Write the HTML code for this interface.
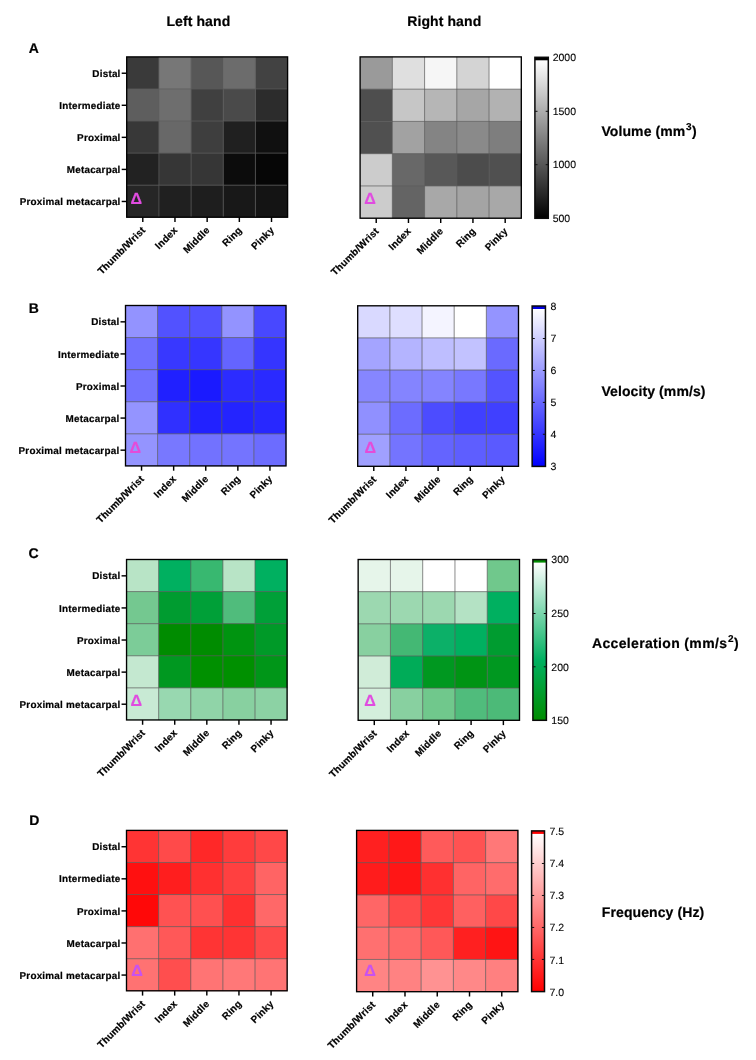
<!DOCTYPE html>
<html><head><meta charset="utf-8"><title>Hand heatmaps</title>
<style>html,body{margin:0;padding:0;background:#fff;}svg{display:block}text{font-family:"Liberation Sans", sans-serif;fill:#000;text-rendering:geometricPrecision}text[font-weight=bold]{stroke:#000;stroke-width:0.2px}.ax{letter-spacing:0.225px}.ti{letter-spacing:0.1px}</style>
</head><body>
<svg width="756" height="1060" viewBox="0 0 756 1060">
<defs><linearGradient id="g0" x1="0" y1="0" x2="0" y2="1"><stop offset="0" stop-color="#ffffff"/><stop offset="1" stop-color="#000000"/></linearGradient><linearGradient id="g1" x1="0" y1="0" x2="0" y2="1"><stop offset="0" stop-color="#ffffff"/><stop offset="1" stop-color="#0000ff"/></linearGradient><linearGradient id="g2" x1="0" y1="0" x2="0" y2="1"><stop offset="0" stop-color="#ffffff"/><stop offset="0.62" stop-color="#00b060"/><stop offset="1" stop-color="#008c00"/></linearGradient><linearGradient id="g3" x1="0" y1="0" x2="0" y2="1"><stop offset="0" stop-color="#ffffff"/><stop offset="1" stop-color="#ff0000"/></linearGradient></defs>
<rect width="756" height="1060" fill="#fff"/>
<text x="28.8" y="53.0" font-size="14" font-weight="bold">A</text>
<rect x="126.70" y="56.90" width="32.48" height="32.36" fill="#3a3a3a"/>
<rect x="158.88" y="56.90" width="32.48" height="32.36" fill="#777777"/>
<rect x="191.06" y="56.90" width="32.48" height="32.36" fill="#575757"/>
<rect x="223.24" y="56.90" width="32.48" height="32.36" fill="#6c6c6c"/>
<rect x="255.42" y="56.90" width="32.48" height="32.36" fill="#424242"/>
<rect x="126.70" y="88.96" width="32.48" height="32.36" fill="#5e5e5e"/>
<rect x="158.88" y="88.96" width="32.48" height="32.36" fill="#6e6e6e"/>
<rect x="191.06" y="88.96" width="32.48" height="32.36" fill="#404040"/>
<rect x="223.24" y="88.96" width="32.48" height="32.36" fill="#4a4a4a"/>
<rect x="255.42" y="88.96" width="32.48" height="32.36" fill="#2c2c2c"/>
<rect x="126.70" y="121.02" width="32.48" height="32.36" fill="#383838"/>
<rect x="158.88" y="121.02" width="32.48" height="32.36" fill="#686868"/>
<rect x="191.06" y="121.02" width="32.48" height="32.36" fill="#3e3e3e"/>
<rect x="223.24" y="121.02" width="32.48" height="32.36" fill="#202020"/>
<rect x="255.42" y="121.02" width="32.48" height="32.36" fill="#101010"/>
<rect x="126.70" y="153.08" width="32.48" height="32.36" fill="#222222"/>
<rect x="158.88" y="153.08" width="32.48" height="32.36" fill="#363636"/>
<rect x="191.06" y="153.08" width="32.48" height="32.36" fill="#363636"/>
<rect x="223.24" y="153.08" width="32.48" height="32.36" fill="#0c0c0c"/>
<rect x="255.42" y="153.08" width="32.48" height="32.36" fill="#060606"/>
<rect x="126.70" y="185.14" width="32.48" height="32.36" fill="#262626"/>
<rect x="158.88" y="185.14" width="32.48" height="32.36" fill="#202020"/>
<rect x="191.06" y="185.14" width="32.48" height="32.36" fill="#1e1e1e"/>
<rect x="223.24" y="185.14" width="32.48" height="32.36" fill="#181818"/>
<rect x="255.42" y="185.14" width="32.48" height="32.36" fill="#141414"/>
<line x1="158.88" y1="56.90" x2="158.88" y2="217.20" stroke="#5c5c5c" stroke-width="0.72"/>
<line x1="126.70" y1="88.96" x2="287.60" y2="88.96" stroke="#5c5c5c" stroke-width="0.72"/>
<line x1="191.06" y1="56.90" x2="191.06" y2="217.20" stroke="#5c5c5c" stroke-width="0.72"/>
<line x1="126.70" y1="121.02" x2="287.60" y2="121.02" stroke="#5c5c5c" stroke-width="0.72"/>
<line x1="223.24" y1="56.90" x2="223.24" y2="217.20" stroke="#5c5c5c" stroke-width="0.72"/>
<line x1="126.70" y1="153.08" x2="287.60" y2="153.08" stroke="#5c5c5c" stroke-width="0.72"/>
<line x1="255.42" y1="56.90" x2="255.42" y2="217.20" stroke="#5c5c5c" stroke-width="0.72"/>
<line x1="126.70" y1="185.14" x2="287.60" y2="185.14" stroke="#5c5c5c" stroke-width="0.72"/>
<rect x="126.70" y="56.90" width="160.90" height="160.30" fill="none" stroke="#000" stroke-width="1.35"/>
<line x1="142.79" y1="217.20" x2="142.79" y2="222.00" stroke="#000" stroke-width="1.45"/>
<text x="145.99" y="230.80" transform="rotate(-45 145.99 230.80)" text-anchor="end" font-size="9.9" font-weight="bold" class="ax">Thumb/Wrist</text>
<line x1="174.97" y1="217.20" x2="174.97" y2="222.00" stroke="#000" stroke-width="1.45"/>
<text x="178.17" y="230.80" transform="rotate(-45 178.17 230.80)" text-anchor="end" font-size="9.9" font-weight="bold" class="ax">Index</text>
<line x1="207.15" y1="217.20" x2="207.15" y2="222.00" stroke="#000" stroke-width="1.45"/>
<text x="210.35" y="230.80" transform="rotate(-45 210.35 230.80)" text-anchor="end" font-size="9.9" font-weight="bold" class="ax">Middle</text>
<line x1="239.33" y1="217.20" x2="239.33" y2="222.00" stroke="#000" stroke-width="1.45"/>
<text x="242.53" y="230.80" transform="rotate(-45 242.53 230.80)" text-anchor="end" font-size="9.9" font-weight="bold" class="ax">Ring</text>
<line x1="271.51" y1="217.20" x2="271.51" y2="222.00" stroke="#000" stroke-width="1.45"/>
<text x="274.71" y="230.80" transform="rotate(-45 274.71 230.80)" text-anchor="end" font-size="9.9" font-weight="bold" class="ax">Pinky</text>
<line x1="121.70" y1="73.23" x2="126.70" y2="73.23" stroke="#000" stroke-width="1.45"/>
<text x="120.60" y="76.83" text-anchor="end" font-size="9.9" font-weight="bold" class="ax">Distal</text>
<line x1="121.70" y1="105.29" x2="126.70" y2="105.29" stroke="#000" stroke-width="1.45"/>
<text x="120.60" y="108.89" text-anchor="end" font-size="9.9" font-weight="bold" class="ax">Intermediate</text>
<line x1="121.70" y1="137.35" x2="126.70" y2="137.35" stroke="#000" stroke-width="1.45"/>
<text x="120.60" y="140.95" text-anchor="end" font-size="9.9" font-weight="bold" class="ax">Proximal</text>
<line x1="121.70" y1="169.41" x2="126.70" y2="169.41" stroke="#000" stroke-width="1.45"/>
<text x="120.60" y="173.01" text-anchor="end" font-size="9.9" font-weight="bold" class="ax">Metacarpal</text>
<line x1="121.70" y1="201.47" x2="126.70" y2="201.47" stroke="#000" stroke-width="1.45"/>
<text x="120.60" y="205.07" text-anchor="end" font-size="9.9" font-weight="bold" class="ax">Proximal metacarpal</text>
<text x="130.40" y="203.80" font-size="16.1" font-weight="bold" style="fill:#e04ce0;stroke:#e04ce0">Δ</text>
<rect x="360.10" y="56.90" width="32.54" height="32.56" fill="#9a9a9a"/>
<rect x="392.34" y="56.90" width="32.54" height="32.56" fill="#dfdfdf"/>
<rect x="424.58" y="56.90" width="32.54" height="32.56" fill="#f6f6f6"/>
<rect x="456.82" y="56.90" width="32.54" height="32.56" fill="#d4d4d4"/>
<rect x="489.06" y="56.90" width="32.54" height="32.56" fill="#ffffff"/>
<rect x="360.10" y="89.16" width="32.54" height="32.56" fill="#4e4e4e"/>
<rect x="392.34" y="89.16" width="32.54" height="32.56" fill="#c6c6c6"/>
<rect x="424.58" y="89.16" width="32.54" height="32.56" fill="#b6b6b6"/>
<rect x="456.82" y="89.16" width="32.54" height="32.56" fill="#a6a6a6"/>
<rect x="489.06" y="89.16" width="32.54" height="32.56" fill="#b2b2b2"/>
<rect x="360.10" y="121.42" width="32.54" height="32.56" fill="#505050"/>
<rect x="392.34" y="121.42" width="32.54" height="32.56" fill="#a2a2a2"/>
<rect x="424.58" y="121.42" width="32.54" height="32.56" fill="#848484"/>
<rect x="456.82" y="121.42" width="32.54" height="32.56" fill="#8a8a8a"/>
<rect x="489.06" y="121.42" width="32.54" height="32.56" fill="#7e7e7e"/>
<rect x="360.10" y="153.68" width="32.54" height="32.56" fill="#cccccc"/>
<rect x="392.34" y="153.68" width="32.54" height="32.56" fill="#686868"/>
<rect x="424.58" y="153.68" width="32.54" height="32.56" fill="#585858"/>
<rect x="456.82" y="153.68" width="32.54" height="32.56" fill="#4c4c4c"/>
<rect x="489.06" y="153.68" width="32.54" height="32.56" fill="#505050"/>
<rect x="360.10" y="185.94" width="32.54" height="32.56" fill="#cccccc"/>
<rect x="392.34" y="185.94" width="32.54" height="32.56" fill="#646464"/>
<rect x="424.58" y="185.94" width="32.54" height="32.56" fill="#a8a8a8"/>
<rect x="456.82" y="185.94" width="32.54" height="32.56" fill="#a4a4a4"/>
<rect x="489.06" y="185.94" width="32.54" height="32.56" fill="#a8a8a8"/>
<line x1="392.34" y1="56.90" x2="392.34" y2="218.20" stroke="#5c5c5c" stroke-width="0.72"/>
<line x1="360.10" y1="89.16" x2="521.30" y2="89.16" stroke="#5c5c5c" stroke-width="0.72"/>
<line x1="424.58" y1="56.90" x2="424.58" y2="218.20" stroke="#5c5c5c" stroke-width="0.72"/>
<line x1="360.10" y1="121.42" x2="521.30" y2="121.42" stroke="#5c5c5c" stroke-width="0.72"/>
<line x1="456.82" y1="56.90" x2="456.82" y2="218.20" stroke="#5c5c5c" stroke-width="0.72"/>
<line x1="360.10" y1="153.68" x2="521.30" y2="153.68" stroke="#5c5c5c" stroke-width="0.72"/>
<line x1="489.06" y1="56.90" x2="489.06" y2="218.20" stroke="#5c5c5c" stroke-width="0.72"/>
<line x1="360.10" y1="185.94" x2="521.30" y2="185.94" stroke="#5c5c5c" stroke-width="0.72"/>
<rect x="360.10" y="56.90" width="161.20" height="161.30" fill="none" stroke="#000" stroke-width="1.35"/>
<line x1="376.22" y1="218.20" x2="376.22" y2="223.00" stroke="#000" stroke-width="1.45"/>
<text x="379.42" y="231.80" transform="rotate(-45 379.42 231.80)" text-anchor="end" font-size="9.9" font-weight="bold" class="ax">Thumb/Wrist</text>
<line x1="408.46" y1="218.20" x2="408.46" y2="223.00" stroke="#000" stroke-width="1.45"/>
<text x="411.66" y="231.80" transform="rotate(-45 411.66 231.80)" text-anchor="end" font-size="9.9" font-weight="bold" class="ax">Index</text>
<line x1="440.70" y1="218.20" x2="440.70" y2="223.00" stroke="#000" stroke-width="1.45"/>
<text x="443.90" y="231.80" transform="rotate(-45 443.90 231.80)" text-anchor="end" font-size="9.9" font-weight="bold" class="ax">Middle</text>
<line x1="472.94" y1="218.20" x2="472.94" y2="223.00" stroke="#000" stroke-width="1.45"/>
<text x="476.14" y="231.80" transform="rotate(-45 476.14 231.80)" text-anchor="end" font-size="9.9" font-weight="bold" class="ax">Ring</text>
<line x1="505.18" y1="218.20" x2="505.18" y2="223.00" stroke="#000" stroke-width="1.45"/>
<text x="508.38" y="231.80" transform="rotate(-45 508.38 231.80)" text-anchor="end" font-size="9.9" font-weight="bold" class="ax">Pinky</text>
<text x="364.30" y="203.50" font-size="16.1" font-weight="bold" style="fill:#e04ce0;stroke:#e04ce0">Δ</text>
<rect x="534.9" y="59.90" width="13.40" height="158.40" fill="url(#g0)"/>
<rect x="534.9" y="57.3" width="13.40" height="3.0" fill="#000000"/>
<rect x="534.9" y="57.3" width="13.40" height="161.00" fill="none" stroke="#0a0a0a" stroke-width="1.5"/>
<text x="552.7" y="61.25" font-size="10.5" style="fill:#000;stroke:#000;stroke-width:0.1px">2000</text>
<line x1="534.9" y1="111.30" x2="537.5" y2="111.30" stroke="#111" stroke-width="1"/>
<line x1="545.6999999999999" y1="111.30" x2="548.3" y2="111.30" stroke="#111" stroke-width="1"/>
<text x="552.7" y="114.78" font-size="10.5" style="fill:#000;stroke:#000;stroke-width:0.1px">1500</text>
<line x1="534.9" y1="164.70" x2="537.5" y2="164.70" stroke="#111" stroke-width="1"/>
<line x1="545.6999999999999" y1="164.70" x2="548.3" y2="164.70" stroke="#111" stroke-width="1"/>
<text x="552.7" y="168.32" font-size="10.5" style="fill:#000;stroke:#000;stroke-width:0.1px">1000</text>
<text x="552.7" y="221.85" font-size="10.5" style="fill:#000;stroke:#000;stroke-width:0.1px">500</text>
<text x="601.4" y="135.6" font-size="14" font-weight="bold" class="ti">Volume (mm<tspan font-size="10" dy="-5.8" dx="0.6">3</tspan><tspan dy="5.8" dx="0.3">)</tspan></text>
<text x="28.8" y="313.0" font-size="14" font-weight="bold">B</text>
<rect x="125.50" y="305.50" width="32.40" height="32.38" fill="#9393ff"/>
<rect x="157.60" y="305.50" width="32.40" height="32.38" fill="#5252ff"/>
<rect x="189.70" y="305.50" width="32.40" height="32.38" fill="#5252ff"/>
<rect x="221.80" y="305.50" width="32.40" height="32.38" fill="#9393ff"/>
<rect x="253.90" y="305.50" width="32.40" height="32.38" fill="#4848ff"/>
<rect x="125.50" y="337.58" width="32.40" height="32.38" fill="#7070ff"/>
<rect x="157.60" y="337.58" width="32.40" height="32.38" fill="#3838ff"/>
<rect x="189.70" y="337.58" width="32.40" height="32.38" fill="#3636ff"/>
<rect x="221.80" y="337.58" width="32.40" height="32.38" fill="#6464ff"/>
<rect x="253.90" y="337.58" width="32.40" height="32.38" fill="#3535ff"/>
<rect x="125.50" y="369.66" width="32.40" height="32.38" fill="#7272ff"/>
<rect x="157.60" y="369.66" width="32.40" height="32.38" fill="#2020ff"/>
<rect x="189.70" y="369.66" width="32.40" height="32.38" fill="#1a1aff"/>
<rect x="221.80" y="369.66" width="32.40" height="32.38" fill="#2c2cff"/>
<rect x="253.90" y="369.66" width="32.40" height="32.38" fill="#2a2aff"/>
<rect x="125.50" y="401.74" width="32.40" height="32.38" fill="#9494ff"/>
<rect x="157.60" y="401.74" width="32.40" height="32.38" fill="#3030ff"/>
<rect x="189.70" y="401.74" width="32.40" height="32.38" fill="#2222ff"/>
<rect x="221.80" y="401.74" width="32.40" height="32.38" fill="#2424ff"/>
<rect x="253.90" y="401.74" width="32.40" height="32.38" fill="#2828ff"/>
<rect x="125.50" y="433.82" width="32.40" height="32.38" fill="#9494ff"/>
<rect x="157.60" y="433.82" width="32.40" height="32.38" fill="#7878ff"/>
<rect x="189.70" y="433.82" width="32.40" height="32.38" fill="#7272ff"/>
<rect x="221.80" y="433.82" width="32.40" height="32.38" fill="#7474ff"/>
<rect x="253.90" y="433.82" width="32.40" height="32.38" fill="#6c6cff"/>
<line x1="157.60" y1="305.50" x2="157.60" y2="465.90" stroke="#5c5c5c" stroke-width="0.72"/>
<line x1="125.50" y1="337.58" x2="286.00" y2="337.58" stroke="#5c5c5c" stroke-width="0.72"/>
<line x1="189.70" y1="305.50" x2="189.70" y2="465.90" stroke="#5c5c5c" stroke-width="0.72"/>
<line x1="125.50" y1="369.66" x2="286.00" y2="369.66" stroke="#5c5c5c" stroke-width="0.72"/>
<line x1="221.80" y1="305.50" x2="221.80" y2="465.90" stroke="#5c5c5c" stroke-width="0.72"/>
<line x1="125.50" y1="401.74" x2="286.00" y2="401.74" stroke="#5c5c5c" stroke-width="0.72"/>
<line x1="253.90" y1="305.50" x2="253.90" y2="465.90" stroke="#5c5c5c" stroke-width="0.72"/>
<line x1="125.50" y1="433.82" x2="286.00" y2="433.82" stroke="#5c5c5c" stroke-width="0.72"/>
<rect x="125.50" y="305.50" width="160.50" height="160.40" fill="none" stroke="#000" stroke-width="1.35"/>
<line x1="141.55" y1="465.90" x2="141.55" y2="470.70" stroke="#000" stroke-width="1.45"/>
<text x="144.75" y="479.50" transform="rotate(-45 144.75 479.50)" text-anchor="end" font-size="9.9" font-weight="bold" class="ax">Thumb/Wrist</text>
<line x1="173.65" y1="465.90" x2="173.65" y2="470.70" stroke="#000" stroke-width="1.45"/>
<text x="176.85" y="479.50" transform="rotate(-45 176.85 479.50)" text-anchor="end" font-size="9.9" font-weight="bold" class="ax">Index</text>
<line x1="205.75" y1="465.90" x2="205.75" y2="470.70" stroke="#000" stroke-width="1.45"/>
<text x="208.95" y="479.50" transform="rotate(-45 208.95 479.50)" text-anchor="end" font-size="9.9" font-weight="bold" class="ax">Middle</text>
<line x1="237.85" y1="465.90" x2="237.85" y2="470.70" stroke="#000" stroke-width="1.45"/>
<text x="241.05" y="479.50" transform="rotate(-45 241.05 479.50)" text-anchor="end" font-size="9.9" font-weight="bold" class="ax">Ring</text>
<line x1="269.95" y1="465.90" x2="269.95" y2="470.70" stroke="#000" stroke-width="1.45"/>
<text x="273.15" y="479.50" transform="rotate(-45 273.15 479.50)" text-anchor="end" font-size="9.9" font-weight="bold" class="ax">Pinky</text>
<line x1="120.50" y1="321.84" x2="125.50" y2="321.84" stroke="#000" stroke-width="1.45"/>
<text x="119.40" y="325.44" text-anchor="end" font-size="9.9" font-weight="bold" class="ax">Distal</text>
<line x1="120.50" y1="353.92" x2="125.50" y2="353.92" stroke="#000" stroke-width="1.45"/>
<text x="119.40" y="357.52" text-anchor="end" font-size="9.9" font-weight="bold" class="ax">Intermediate</text>
<line x1="120.50" y1="386.00" x2="125.50" y2="386.00" stroke="#000" stroke-width="1.45"/>
<text x="119.40" y="389.60" text-anchor="end" font-size="9.9" font-weight="bold" class="ax">Proximal</text>
<line x1="120.50" y1="418.08" x2="125.50" y2="418.08" stroke="#000" stroke-width="1.45"/>
<text x="119.40" y="421.68" text-anchor="end" font-size="9.9" font-weight="bold" class="ax">Metacarpal</text>
<line x1="120.50" y1="450.16" x2="125.50" y2="450.16" stroke="#000" stroke-width="1.45"/>
<text x="119.40" y="453.76" text-anchor="end" font-size="9.9" font-weight="bold" class="ax">Proximal metacarpal</text>
<text x="129.50" y="452.70" font-size="16.1" font-weight="bold" style="fill:#e44cd8;stroke:#e44cd8">Δ</text>
<rect x="357.70" y="305.80" width="32.46" height="32.40" fill="#d9d9ff"/>
<rect x="389.86" y="305.80" width="32.46" height="32.40" fill="#dedeff"/>
<rect x="422.02" y="305.80" width="32.46" height="32.40" fill="#f4f4ff"/>
<rect x="454.18" y="305.80" width="32.46" height="32.40" fill="#ffffff"/>
<rect x="486.34" y="305.80" width="32.46" height="32.40" fill="#9494ff"/>
<rect x="357.70" y="337.90" width="32.46" height="32.40" fill="#a4a4ff"/>
<rect x="389.86" y="337.90" width="32.46" height="32.40" fill="#b4b4ff"/>
<rect x="422.02" y="337.90" width="32.46" height="32.40" fill="#bebeff"/>
<rect x="454.18" y="337.90" width="32.46" height="32.40" fill="#c2c2ff"/>
<rect x="486.34" y="337.90" width="32.46" height="32.40" fill="#6a6aff"/>
<rect x="357.70" y="370.00" width="32.46" height="32.40" fill="#8686ff"/>
<rect x="389.86" y="370.00" width="32.46" height="32.40" fill="#8484ff"/>
<rect x="422.02" y="370.00" width="32.46" height="32.40" fill="#8484ff"/>
<rect x="454.18" y="370.00" width="32.46" height="32.40" fill="#7878ff"/>
<rect x="486.34" y="370.00" width="32.46" height="32.40" fill="#5454ff"/>
<rect x="357.70" y="402.10" width="32.46" height="32.40" fill="#9090ff"/>
<rect x="389.86" y="402.10" width="32.46" height="32.40" fill="#6c6cff"/>
<rect x="422.02" y="402.10" width="32.46" height="32.40" fill="#4c4cff"/>
<rect x="454.18" y="402.10" width="32.46" height="32.40" fill="#4040ff"/>
<rect x="486.34" y="402.10" width="32.46" height="32.40" fill="#4040ff"/>
<rect x="357.70" y="434.20" width="32.46" height="32.40" fill="#a0a0ff"/>
<rect x="389.86" y="434.20" width="32.46" height="32.40" fill="#7474ff"/>
<rect x="422.02" y="434.20" width="32.46" height="32.40" fill="#6464ff"/>
<rect x="454.18" y="434.20" width="32.46" height="32.40" fill="#5e5eff"/>
<rect x="486.34" y="434.20" width="32.46" height="32.40" fill="#5a5aff"/>
<line x1="389.86" y1="305.80" x2="389.86" y2="466.30" stroke="#5c5c5c" stroke-width="0.72"/>
<line x1="357.70" y1="337.90" x2="518.50" y2="337.90" stroke="#5c5c5c" stroke-width="0.72"/>
<line x1="422.02" y1="305.80" x2="422.02" y2="466.30" stroke="#5c5c5c" stroke-width="0.72"/>
<line x1="357.70" y1="370.00" x2="518.50" y2="370.00" stroke="#5c5c5c" stroke-width="0.72"/>
<line x1="454.18" y1="305.80" x2="454.18" y2="466.30" stroke="#5c5c5c" stroke-width="0.72"/>
<line x1="357.70" y1="402.10" x2="518.50" y2="402.10" stroke="#5c5c5c" stroke-width="0.72"/>
<line x1="486.34" y1="305.80" x2="486.34" y2="466.30" stroke="#5c5c5c" stroke-width="0.72"/>
<line x1="357.70" y1="434.20" x2="518.50" y2="434.20" stroke="#5c5c5c" stroke-width="0.72"/>
<rect x="357.70" y="305.80" width="160.80" height="160.50" fill="none" stroke="#000" stroke-width="1.35"/>
<line x1="373.78" y1="466.30" x2="373.78" y2="471.10" stroke="#000" stroke-width="1.45"/>
<text x="376.98" y="479.90" transform="rotate(-45 376.98 479.90)" text-anchor="end" font-size="9.9" font-weight="bold" class="ax">Thumb/Wrist</text>
<line x1="405.94" y1="466.30" x2="405.94" y2="471.10" stroke="#000" stroke-width="1.45"/>
<text x="409.14" y="479.90" transform="rotate(-45 409.14 479.90)" text-anchor="end" font-size="9.9" font-weight="bold" class="ax">Index</text>
<line x1="438.10" y1="466.30" x2="438.10" y2="471.10" stroke="#000" stroke-width="1.45"/>
<text x="441.30" y="479.90" transform="rotate(-45 441.30 479.90)" text-anchor="end" font-size="9.9" font-weight="bold" class="ax">Middle</text>
<line x1="470.26" y1="466.30" x2="470.26" y2="471.10" stroke="#000" stroke-width="1.45"/>
<text x="473.46" y="479.90" transform="rotate(-45 473.46 479.90)" text-anchor="end" font-size="9.9" font-weight="bold" class="ax">Ring</text>
<line x1="502.42" y1="466.30" x2="502.42" y2="471.10" stroke="#000" stroke-width="1.45"/>
<text x="505.62" y="479.90" transform="rotate(-45 505.62 479.90)" text-anchor="end" font-size="9.9" font-weight="bold" class="ax">Pinky</text>
<text x="364.40" y="452.70" font-size="16.1" font-weight="bold" style="fill:#e44cd8;stroke:#e44cd8">Δ</text>
<rect x="532.15" y="308.60" width="13.30" height="157.80" fill="url(#g1)"/>
<rect x="532.15" y="306.0" width="13.30" height="3.0" fill="#0000e0"/>
<rect x="532.15" y="306.0" width="13.30" height="160.40" fill="none" stroke="#0a0a0a" stroke-width="1.5"/>
<text x="550.4000000000001" y="310.35" font-size="10.5" style="fill:#000;stroke:#000;stroke-width:0.1px">8</text>
<line x1="532.15" y1="338.52" x2="534.75" y2="338.52" stroke="#111" stroke-width="1"/>
<line x1="542.85" y1="338.52" x2="545.45" y2="338.52" stroke="#111" stroke-width="1"/>
<text x="550.4000000000001" y="342.37" font-size="10.5" style="fill:#000;stroke:#000;stroke-width:0.1px">7</text>
<line x1="532.15" y1="370.44" x2="534.75" y2="370.44" stroke="#111" stroke-width="1"/>
<line x1="542.85" y1="370.44" x2="545.45" y2="370.44" stroke="#111" stroke-width="1"/>
<text x="550.4000000000001" y="374.39" font-size="10.5" style="fill:#000;stroke:#000;stroke-width:0.1px">6</text>
<line x1="532.15" y1="402.36" x2="534.75" y2="402.36" stroke="#111" stroke-width="1"/>
<line x1="542.85" y1="402.36" x2="545.45" y2="402.36" stroke="#111" stroke-width="1"/>
<text x="550.4000000000001" y="406.41" font-size="10.5" style="fill:#000;stroke:#000;stroke-width:0.1px">5</text>
<line x1="532.15" y1="434.28" x2="534.75" y2="434.28" stroke="#111" stroke-width="1"/>
<line x1="542.85" y1="434.28" x2="545.45" y2="434.28" stroke="#111" stroke-width="1"/>
<text x="550.4000000000001" y="438.43" font-size="10.5" style="fill:#000;stroke:#000;stroke-width:0.1px">4</text>
<text x="550.4000000000001" y="470.45" font-size="10.5" style="fill:#000;stroke:#000;stroke-width:0.1px">3</text>
<text x="601.4" y="396.2" font-size="14" font-weight="bold" class="ti">Velocity (mm/s)</text>
<text x="28.4" y="558.0" font-size="14" font-weight="bold">C</text>
<rect x="126.55" y="559.50" width="32.41" height="32.39" fill="#b8e4c6"/>
<rect x="158.66" y="559.50" width="32.41" height="32.39" fill="#00b060"/>
<rect x="190.77" y="559.50" width="32.41" height="32.39" fill="#38b870"/>
<rect x="222.88" y="559.50" width="32.41" height="32.39" fill="#b8e4c6"/>
<rect x="254.99" y="559.50" width="32.41" height="32.39" fill="#00b060"/>
<rect x="126.55" y="591.59" width="32.41" height="32.39" fill="#74c890"/>
<rect x="158.66" y="591.59" width="32.41" height="32.39" fill="#009c30"/>
<rect x="190.77" y="591.59" width="32.41" height="32.39" fill="#00a038"/>
<rect x="222.88" y="591.59" width="32.41" height="32.39" fill="#50bc7c"/>
<rect x="254.99" y="591.59" width="32.41" height="32.39" fill="#00a038"/>
<rect x="126.55" y="623.68" width="32.41" height="32.39" fill="#7ccc98"/>
<rect x="158.66" y="623.68" width="32.41" height="32.39" fill="#008c00"/>
<rect x="190.77" y="623.68" width="32.41" height="32.39" fill="#008c00"/>
<rect x="222.88" y="623.68" width="32.41" height="32.39" fill="#009410"/>
<rect x="254.99" y="623.68" width="32.41" height="32.39" fill="#009a28"/>
<rect x="126.55" y="655.77" width="32.41" height="32.39" fill="#c4e8d0"/>
<rect x="158.66" y="655.77" width="32.41" height="32.39" fill="#009820"/>
<rect x="190.77" y="655.77" width="32.41" height="32.39" fill="#009000"/>
<rect x="222.88" y="655.77" width="32.41" height="32.39" fill="#009000"/>
<rect x="254.99" y="655.77" width="32.41" height="32.39" fill="#009618"/>
<rect x="126.55" y="687.86" width="32.41" height="32.39" fill="#c8ead4"/>
<rect x="158.66" y="687.86" width="32.41" height="32.39" fill="#98d8b0"/>
<rect x="190.77" y="687.86" width="32.41" height="32.39" fill="#90d4a8"/>
<rect x="222.88" y="687.86" width="32.41" height="32.39" fill="#88d0a0"/>
<rect x="254.99" y="687.86" width="32.41" height="32.39" fill="#8cd2a4"/>
<line x1="158.66" y1="559.50" x2="158.66" y2="719.95" stroke="#5c5c5c" stroke-width="0.72"/>
<line x1="126.55" y1="591.59" x2="287.10" y2="591.59" stroke="#5c5c5c" stroke-width="0.72"/>
<line x1="190.77" y1="559.50" x2="190.77" y2="719.95" stroke="#5c5c5c" stroke-width="0.72"/>
<line x1="126.55" y1="623.68" x2="287.10" y2="623.68" stroke="#5c5c5c" stroke-width="0.72"/>
<line x1="222.88" y1="559.50" x2="222.88" y2="719.95" stroke="#5c5c5c" stroke-width="0.72"/>
<line x1="126.55" y1="655.77" x2="287.10" y2="655.77" stroke="#5c5c5c" stroke-width="0.72"/>
<line x1="254.99" y1="559.50" x2="254.99" y2="719.95" stroke="#5c5c5c" stroke-width="0.72"/>
<line x1="126.55" y1="687.86" x2="287.10" y2="687.86" stroke="#5c5c5c" stroke-width="0.72"/>
<rect x="126.55" y="559.50" width="160.55" height="160.45" fill="none" stroke="#000" stroke-width="1.35"/>
<line x1="142.60" y1="719.95" x2="142.60" y2="724.75" stroke="#000" stroke-width="1.45"/>
<text x="145.80" y="733.55" transform="rotate(-45 145.80 733.55)" text-anchor="end" font-size="9.9" font-weight="bold" class="ax">Thumb/Wrist</text>
<line x1="174.72" y1="719.95" x2="174.72" y2="724.75" stroke="#000" stroke-width="1.45"/>
<text x="177.91" y="733.55" transform="rotate(-45 177.91 733.55)" text-anchor="end" font-size="9.9" font-weight="bold" class="ax">Index</text>
<line x1="206.82" y1="719.95" x2="206.82" y2="724.75" stroke="#000" stroke-width="1.45"/>
<text x="210.02" y="733.55" transform="rotate(-45 210.02 733.55)" text-anchor="end" font-size="9.9" font-weight="bold" class="ax">Middle</text>
<line x1="238.94" y1="719.95" x2="238.94" y2="724.75" stroke="#000" stroke-width="1.45"/>
<text x="242.13" y="733.55" transform="rotate(-45 242.13 733.55)" text-anchor="end" font-size="9.9" font-weight="bold" class="ax">Ring</text>
<line x1="271.05" y1="719.95" x2="271.05" y2="724.75" stroke="#000" stroke-width="1.45"/>
<text x="274.25" y="733.55" transform="rotate(-45 274.25 733.55)" text-anchor="end" font-size="9.9" font-weight="bold" class="ax">Pinky</text>
<line x1="121.55" y1="575.84" x2="126.55" y2="575.84" stroke="#000" stroke-width="1.45"/>
<text x="120.45" y="579.44" text-anchor="end" font-size="9.9" font-weight="bold" class="ax">Distal</text>
<line x1="121.55" y1="607.93" x2="126.55" y2="607.93" stroke="#000" stroke-width="1.45"/>
<text x="120.45" y="611.53" text-anchor="end" font-size="9.9" font-weight="bold" class="ax">Intermediate</text>
<line x1="121.55" y1="640.02" x2="126.55" y2="640.02" stroke="#000" stroke-width="1.45"/>
<text x="120.45" y="643.62" text-anchor="end" font-size="9.9" font-weight="bold" class="ax">Proximal</text>
<line x1="121.55" y1="672.12" x2="126.55" y2="672.12" stroke="#000" stroke-width="1.45"/>
<text x="120.45" y="675.72" text-anchor="end" font-size="9.9" font-weight="bold" class="ax">Metacarpal</text>
<line x1="121.55" y1="704.21" x2="126.55" y2="704.21" stroke="#000" stroke-width="1.45"/>
<text x="120.45" y="707.81" text-anchor="end" font-size="9.9" font-weight="bold" class="ax">Proximal metacarpal</text>
<text x="130.50" y="706.00" font-size="16.1" font-weight="bold" style="fill:#e04ce0;stroke:#e04ce0">Δ</text>
<rect x="358.15" y="559.50" width="32.57" height="32.46" fill="#e6f5ea"/>
<rect x="390.42" y="559.50" width="32.57" height="32.46" fill="#e6f5ea"/>
<rect x="422.69" y="559.50" width="32.57" height="32.46" fill="#ffffff"/>
<rect x="454.96" y="559.50" width="32.57" height="32.46" fill="#ffffff"/>
<rect x="487.23" y="559.50" width="32.57" height="32.46" fill="#70c88c"/>
<rect x="358.15" y="591.66" width="32.57" height="32.46" fill="#9cd8b0"/>
<rect x="390.42" y="591.66" width="32.57" height="32.46" fill="#9cd8b0"/>
<rect x="422.69" y="591.66" width="32.57" height="32.46" fill="#9cd8b0"/>
<rect x="454.96" y="591.66" width="32.57" height="32.46" fill="#b4e2c4"/>
<rect x="487.23" y="591.66" width="32.57" height="32.46" fill="#00b060"/>
<rect x="358.15" y="623.82" width="32.57" height="32.46" fill="#88d0a0"/>
<rect x="390.42" y="623.82" width="32.57" height="32.46" fill="#44b874"/>
<rect x="422.69" y="623.82" width="32.57" height="32.46" fill="#0cb068"/>
<rect x="454.96" y="623.82" width="32.57" height="32.46" fill="#00b060"/>
<rect x="487.23" y="623.82" width="32.57" height="32.46" fill="#009c30"/>
<rect x="358.15" y="655.98" width="32.57" height="32.46" fill="#d0ecd8"/>
<rect x="390.42" y="655.98" width="32.57" height="32.46" fill="#00ac58"/>
<rect x="422.69" y="655.98" width="32.57" height="32.46" fill="#009820"/>
<rect x="454.96" y="655.98" width="32.57" height="32.46" fill="#009414"/>
<rect x="487.23" y="655.98" width="32.57" height="32.46" fill="#009820"/>
<rect x="358.15" y="688.14" width="32.57" height="32.46" fill="#d4eedc"/>
<rect x="390.42" y="688.14" width="32.57" height="32.46" fill="#88d0a0"/>
<rect x="422.69" y="688.14" width="32.57" height="32.46" fill="#70c88c"/>
<rect x="454.96" y="688.14" width="32.57" height="32.46" fill="#50bc7c"/>
<rect x="487.23" y="688.14" width="32.57" height="32.46" fill="#4cba78"/>
<line x1="390.42" y1="559.50" x2="390.42" y2="720.30" stroke="#5c5c5c" stroke-width="0.72"/>
<line x1="358.15" y1="591.66" x2="519.50" y2="591.66" stroke="#5c5c5c" stroke-width="0.72"/>
<line x1="422.69" y1="559.50" x2="422.69" y2="720.30" stroke="#5c5c5c" stroke-width="0.72"/>
<line x1="358.15" y1="623.82" x2="519.50" y2="623.82" stroke="#5c5c5c" stroke-width="0.72"/>
<line x1="454.96" y1="559.50" x2="454.96" y2="720.30" stroke="#5c5c5c" stroke-width="0.72"/>
<line x1="358.15" y1="655.98" x2="519.50" y2="655.98" stroke="#5c5c5c" stroke-width="0.72"/>
<line x1="487.23" y1="559.50" x2="487.23" y2="720.30" stroke="#5c5c5c" stroke-width="0.72"/>
<line x1="358.15" y1="688.14" x2="519.50" y2="688.14" stroke="#5c5c5c" stroke-width="0.72"/>
<rect x="358.15" y="559.50" width="161.35" height="160.80" fill="none" stroke="#000" stroke-width="1.35"/>
<line x1="374.28" y1="720.30" x2="374.28" y2="725.10" stroke="#000" stroke-width="1.45"/>
<text x="377.48" y="733.90" transform="rotate(-45 377.48 733.90)" text-anchor="end" font-size="9.9" font-weight="bold" class="ax">Thumb/Wrist</text>
<line x1="406.55" y1="720.30" x2="406.55" y2="725.10" stroke="#000" stroke-width="1.45"/>
<text x="409.75" y="733.90" transform="rotate(-45 409.75 733.90)" text-anchor="end" font-size="9.9" font-weight="bold" class="ax">Index</text>
<line x1="438.82" y1="720.30" x2="438.82" y2="725.10" stroke="#000" stroke-width="1.45"/>
<text x="442.02" y="733.90" transform="rotate(-45 442.02 733.90)" text-anchor="end" font-size="9.9" font-weight="bold" class="ax">Middle</text>
<line x1="471.09" y1="720.30" x2="471.09" y2="725.10" stroke="#000" stroke-width="1.45"/>
<text x="474.29" y="733.90" transform="rotate(-45 474.29 733.90)" text-anchor="end" font-size="9.9" font-weight="bold" class="ax">Ring</text>
<line x1="503.37" y1="720.30" x2="503.37" y2="725.10" stroke="#000" stroke-width="1.45"/>
<text x="506.56" y="733.90" transform="rotate(-45 506.56 733.90)" text-anchor="end" font-size="9.9" font-weight="bold" class="ax">Pinky</text>
<text x="364.20" y="706.00" font-size="16.1" font-weight="bold" style="fill:#e04ce0;stroke:#e04ce0">Δ</text>
<rect x="532.9" y="562.20" width="13.50" height="158.10" fill="url(#g2)"/>
<rect x="532.9" y="559.6" width="13.50" height="3.0" fill="#008c00"/>
<rect x="532.9" y="559.6" width="13.50" height="160.70" fill="none" stroke="#0a0a0a" stroke-width="1.5"/>
<text x="551.3000000000001" y="562.95" font-size="10.5" style="fill:#000;stroke:#000;stroke-width:0.1px">300</text>
<line x1="532.9" y1="613.50" x2="535.5" y2="613.50" stroke="#111" stroke-width="1"/>
<line x1="543.8" y1="613.50" x2="546.4" y2="613.50" stroke="#111" stroke-width="1"/>
<text x="551.3000000000001" y="616.75" font-size="10.5" style="fill:#000;stroke:#000;stroke-width:0.1px">250</text>
<line x1="532.9" y1="666.80" x2="535.5" y2="666.80" stroke="#111" stroke-width="1"/>
<line x1="543.8" y1="666.80" x2="546.4" y2="666.80" stroke="#111" stroke-width="1"/>
<text x="551.3000000000001" y="670.55" font-size="10.5" style="fill:#000;stroke:#000;stroke-width:0.1px">200</text>
<text x="551.3000000000001" y="724.35" font-size="10.5" style="fill:#000;stroke:#000;stroke-width:0.1px">150</text>
<text x="592.0" y="647.8" font-size="14" font-weight="bold" class="ti" style="letter-spacing:0.34px">Acceleration (mm/s<tspan font-size="10" dy="-5.8" dx="0.6">2</tspan><tspan dy="5.8" dx="0.3">)</tspan></text>
<text x="29.3" y="825.3" font-size="14" font-weight="bold">D</text>
<rect x="126.50" y="830.40" width="32.43" height="32.38" fill="#ff3434"/>
<rect x="158.63" y="830.40" width="32.43" height="32.38" fill="#ff4a4a"/>
<rect x="190.76" y="830.40" width="32.43" height="32.38" fill="#ff2828"/>
<rect x="222.89" y="830.40" width="32.43" height="32.38" fill="#ff3c3c"/>
<rect x="255.02" y="830.40" width="32.43" height="32.38" fill="#ff4848"/>
<rect x="126.50" y="862.48" width="32.43" height="32.38" fill="#ff1010"/>
<rect x="158.63" y="862.48" width="32.43" height="32.38" fill="#ff1e1e"/>
<rect x="190.76" y="862.48" width="32.43" height="32.38" fill="#ff3030"/>
<rect x="222.89" y="862.48" width="32.43" height="32.38" fill="#ff4040"/>
<rect x="255.02" y="862.48" width="32.43" height="32.38" fill="#ff6464"/>
<rect x="126.50" y="894.56" width="32.43" height="32.38" fill="#ff0808"/>
<rect x="158.63" y="894.56" width="32.43" height="32.38" fill="#ff5252"/>
<rect x="190.76" y="894.56" width="32.43" height="32.38" fill="#ff5050"/>
<rect x="222.89" y="894.56" width="32.43" height="32.38" fill="#ff3030"/>
<rect x="255.02" y="894.56" width="32.43" height="32.38" fill="#ff6868"/>
<rect x="126.50" y="926.64" width="32.43" height="32.38" fill="#ff7070"/>
<rect x="158.63" y="926.64" width="32.43" height="32.38" fill="#ff5858"/>
<rect x="190.76" y="926.64" width="32.43" height="32.38" fill="#ff3434"/>
<rect x="222.89" y="926.64" width="32.43" height="32.38" fill="#ff3434"/>
<rect x="255.02" y="926.64" width="32.43" height="32.38" fill="#ff4a4a"/>
<rect x="126.50" y="958.72" width="32.43" height="32.38" fill="#ff7272"/>
<rect x="158.63" y="958.72" width="32.43" height="32.38" fill="#ff4e4e"/>
<rect x="190.76" y="958.72" width="32.43" height="32.38" fill="#ff7474"/>
<rect x="222.89" y="958.72" width="32.43" height="32.38" fill="#ff7878"/>
<rect x="255.02" y="958.72" width="32.43" height="32.38" fill="#ff7474"/>
<line x1="158.63" y1="830.40" x2="158.63" y2="990.80" stroke="#5c5c5c" stroke-width="0.72"/>
<line x1="126.50" y1="862.48" x2="287.15" y2="862.48" stroke="#5c5c5c" stroke-width="0.72"/>
<line x1="190.76" y1="830.40" x2="190.76" y2="990.80" stroke="#5c5c5c" stroke-width="0.72"/>
<line x1="126.50" y1="894.56" x2="287.15" y2="894.56" stroke="#5c5c5c" stroke-width="0.72"/>
<line x1="222.89" y1="830.40" x2="222.89" y2="990.80" stroke="#5c5c5c" stroke-width="0.72"/>
<line x1="126.50" y1="926.64" x2="287.15" y2="926.64" stroke="#5c5c5c" stroke-width="0.72"/>
<line x1="255.02" y1="830.40" x2="255.02" y2="990.80" stroke="#5c5c5c" stroke-width="0.72"/>
<line x1="126.50" y1="958.72" x2="287.15" y2="958.72" stroke="#5c5c5c" stroke-width="0.72"/>
<rect x="126.50" y="830.40" width="160.65" height="160.40" fill="none" stroke="#000" stroke-width="1.35"/>
<line x1="142.56" y1="990.80" x2="142.56" y2="995.60" stroke="#000" stroke-width="1.45"/>
<text x="145.76" y="1004.40" transform="rotate(-45 145.76 1004.40)" text-anchor="end" font-size="9.9" font-weight="bold" class="ax">Thumb/Wrist</text>
<line x1="174.69" y1="990.80" x2="174.69" y2="995.60" stroke="#000" stroke-width="1.45"/>
<text x="177.89" y="1004.40" transform="rotate(-45 177.89 1004.40)" text-anchor="end" font-size="9.9" font-weight="bold" class="ax">Index</text>
<line x1="206.82" y1="990.80" x2="206.82" y2="995.60" stroke="#000" stroke-width="1.45"/>
<text x="210.02" y="1004.40" transform="rotate(-45 210.02 1004.40)" text-anchor="end" font-size="9.9" font-weight="bold" class="ax">Middle</text>
<line x1="238.95" y1="990.80" x2="238.95" y2="995.60" stroke="#000" stroke-width="1.45"/>
<text x="242.15" y="1004.40" transform="rotate(-45 242.15 1004.40)" text-anchor="end" font-size="9.9" font-weight="bold" class="ax">Ring</text>
<line x1="271.08" y1="990.80" x2="271.08" y2="995.60" stroke="#000" stroke-width="1.45"/>
<text x="274.28" y="1004.40" transform="rotate(-45 274.28 1004.40)" text-anchor="end" font-size="9.9" font-weight="bold" class="ax">Pinky</text>
<line x1="121.50" y1="846.74" x2="126.50" y2="846.74" stroke="#000" stroke-width="1.45"/>
<text x="120.40" y="850.34" text-anchor="end" font-size="9.9" font-weight="bold" class="ax">Distal</text>
<line x1="121.50" y1="878.82" x2="126.50" y2="878.82" stroke="#000" stroke-width="1.45"/>
<text x="120.40" y="882.42" text-anchor="end" font-size="9.9" font-weight="bold" class="ax">Intermediate</text>
<line x1="121.50" y1="910.90" x2="126.50" y2="910.90" stroke="#000" stroke-width="1.45"/>
<text x="120.40" y="914.50" text-anchor="end" font-size="9.9" font-weight="bold" class="ax">Proximal</text>
<line x1="121.50" y1="942.98" x2="126.50" y2="942.98" stroke="#000" stroke-width="1.45"/>
<text x="120.40" y="946.58" text-anchor="end" font-size="9.9" font-weight="bold" class="ax">Metacarpal</text>
<line x1="121.50" y1="975.06" x2="126.50" y2="975.06" stroke="#000" stroke-width="1.45"/>
<text x="120.40" y="978.66" text-anchor="end" font-size="9.9" font-weight="bold" class="ax">Proximal metacarpal</text>
<text x="131.20" y="976.00" font-size="16.1" font-weight="bold" style="fill:#c852f0;stroke:#c852f0">Δ</text>
<rect x="356.60" y="830.40" width="32.56" height="32.56" fill="#ff2020"/>
<rect x="388.86" y="830.40" width="32.56" height="32.56" fill="#ff1818"/>
<rect x="421.12" y="830.40" width="32.56" height="32.56" fill="#ff5a5a"/>
<rect x="453.38" y="830.40" width="32.56" height="32.56" fill="#ff5252"/>
<rect x="485.64" y="830.40" width="32.56" height="32.56" fill="#ff7878"/>
<rect x="356.60" y="862.66" width="32.56" height="32.56" fill="#ff1c1c"/>
<rect x="388.86" y="862.66" width="32.56" height="32.56" fill="#ff1616"/>
<rect x="421.12" y="862.66" width="32.56" height="32.56" fill="#ff3030"/>
<rect x="453.38" y="862.66" width="32.56" height="32.56" fill="#ff6464"/>
<rect x="485.64" y="862.66" width="32.56" height="32.56" fill="#ff6c6c"/>
<rect x="356.60" y="894.92" width="32.56" height="32.56" fill="#ff6666"/>
<rect x="388.86" y="894.92" width="32.56" height="32.56" fill="#ff4a4a"/>
<rect x="421.12" y="894.92" width="32.56" height="32.56" fill="#ff3636"/>
<rect x="453.38" y="894.92" width="32.56" height="32.56" fill="#ff6060"/>
<rect x="485.64" y="894.92" width="32.56" height="32.56" fill="#ff4848"/>
<rect x="356.60" y="927.18" width="32.56" height="32.56" fill="#ff7070"/>
<rect x="388.86" y="927.18" width="32.56" height="32.56" fill="#ff6868"/>
<rect x="421.12" y="927.18" width="32.56" height="32.56" fill="#ff5858"/>
<rect x="453.38" y="927.18" width="32.56" height="32.56" fill="#ff2020"/>
<rect x="485.64" y="927.18" width="32.56" height="32.56" fill="#ff1414"/>
<rect x="356.60" y="959.44" width="32.56" height="32.56" fill="#ff8484"/>
<rect x="388.86" y="959.44" width="32.56" height="32.56" fill="#ff8282"/>
<rect x="421.12" y="959.44" width="32.56" height="32.56" fill="#ff9292"/>
<rect x="453.38" y="959.44" width="32.56" height="32.56" fill="#ff8888"/>
<rect x="485.64" y="959.44" width="32.56" height="32.56" fill="#ff8080"/>
<line x1="388.86" y1="830.40" x2="388.86" y2="991.70" stroke="#5c5c5c" stroke-width="0.72"/>
<line x1="356.60" y1="862.66" x2="517.90" y2="862.66" stroke="#5c5c5c" stroke-width="0.72"/>
<line x1="421.12" y1="830.40" x2="421.12" y2="991.70" stroke="#5c5c5c" stroke-width="0.72"/>
<line x1="356.60" y1="894.92" x2="517.90" y2="894.92" stroke="#5c5c5c" stroke-width="0.72"/>
<line x1="453.38" y1="830.40" x2="453.38" y2="991.70" stroke="#5c5c5c" stroke-width="0.72"/>
<line x1="356.60" y1="927.18" x2="517.90" y2="927.18" stroke="#5c5c5c" stroke-width="0.72"/>
<line x1="485.64" y1="830.40" x2="485.64" y2="991.70" stroke="#5c5c5c" stroke-width="0.72"/>
<line x1="356.60" y1="959.44" x2="517.90" y2="959.44" stroke="#5c5c5c" stroke-width="0.72"/>
<rect x="356.60" y="830.40" width="161.30" height="161.30" fill="none" stroke="#000" stroke-width="1.35"/>
<line x1="372.73" y1="991.70" x2="372.73" y2="996.50" stroke="#000" stroke-width="1.45"/>
<text x="375.93" y="1005.30" transform="rotate(-45 375.93 1005.30)" text-anchor="end" font-size="9.9" font-weight="bold" class="ax">Thumb/Wrist</text>
<line x1="404.99" y1="991.70" x2="404.99" y2="996.50" stroke="#000" stroke-width="1.45"/>
<text x="408.19" y="1005.30" transform="rotate(-45 408.19 1005.30)" text-anchor="end" font-size="9.9" font-weight="bold" class="ax">Index</text>
<line x1="437.25" y1="991.70" x2="437.25" y2="996.50" stroke="#000" stroke-width="1.45"/>
<text x="440.45" y="1005.30" transform="rotate(-45 440.45 1005.30)" text-anchor="end" font-size="9.9" font-weight="bold" class="ax">Middle</text>
<line x1="469.51" y1="991.70" x2="469.51" y2="996.50" stroke="#000" stroke-width="1.45"/>
<text x="472.71" y="1005.30" transform="rotate(-45 472.71 1005.30)" text-anchor="end" font-size="9.9" font-weight="bold" class="ax">Ring</text>
<line x1="501.77" y1="991.70" x2="501.77" y2="996.50" stroke="#000" stroke-width="1.45"/>
<text x="504.97" y="1005.30" transform="rotate(-45 504.97 1005.30)" text-anchor="end" font-size="9.9" font-weight="bold" class="ax">Pinky</text>
<text x="364.30" y="976.00" font-size="16.1" font-weight="bold" style="fill:#c852f0;stroke:#c852f0">Δ</text>
<rect x="531.6" y="833.50" width="12.90" height="158.10" fill="url(#g3)"/>
<rect x="531.6" y="830.9" width="12.90" height="3.0" fill="#ff0000"/>
<rect x="531.6" y="830.9" width="12.90" height="160.70" fill="none" stroke="#0a0a0a" stroke-width="1.5"/>
<text x="549.5" y="834.85" font-size="10.5" style="fill:#000;stroke:#000;stroke-width:0.1px">7.5</text>
<line x1="531.6" y1="863.48" x2="534.2" y2="863.48" stroke="#111" stroke-width="1"/>
<line x1="541.9" y1="863.48" x2="544.5" y2="863.48" stroke="#111" stroke-width="1"/>
<text x="549.5" y="867.03" font-size="10.5" style="fill:#000;stroke:#000;stroke-width:0.1px">7.4</text>
<line x1="531.6" y1="895.46" x2="534.2" y2="895.46" stroke="#111" stroke-width="1"/>
<line x1="541.9" y1="895.46" x2="544.5" y2="895.46" stroke="#111" stroke-width="1"/>
<text x="549.5" y="899.21" font-size="10.5" style="fill:#000;stroke:#000;stroke-width:0.1px">7.3</text>
<line x1="531.6" y1="927.44" x2="534.2" y2="927.44" stroke="#111" stroke-width="1"/>
<line x1="541.9" y1="927.44" x2="544.5" y2="927.44" stroke="#111" stroke-width="1"/>
<text x="549.5" y="931.39" font-size="10.5" style="fill:#000;stroke:#000;stroke-width:0.1px">7.2</text>
<line x1="531.6" y1="959.42" x2="534.2" y2="959.42" stroke="#111" stroke-width="1"/>
<line x1="541.9" y1="959.42" x2="544.5" y2="959.42" stroke="#111" stroke-width="1"/>
<text x="549.5" y="963.57" font-size="10.5" style="fill:#000;stroke:#000;stroke-width:0.1px">7.1</text>
<text x="549.5" y="995.75" font-size="10.5" style="fill:#000;stroke:#000;stroke-width:0.1px">7.0</text>
<text x="601.8" y="916.7" font-size="14" font-weight="bold" class="ti">Frequency (Hz)</text>
<text x="166.4" y="26.0" font-size="14" font-weight="bold" class="ti">Left hand</text>
<text x="407.2" y="26.0" font-size="14" font-weight="bold" class="ti">Right hand</text>
</svg>
</body></html>
